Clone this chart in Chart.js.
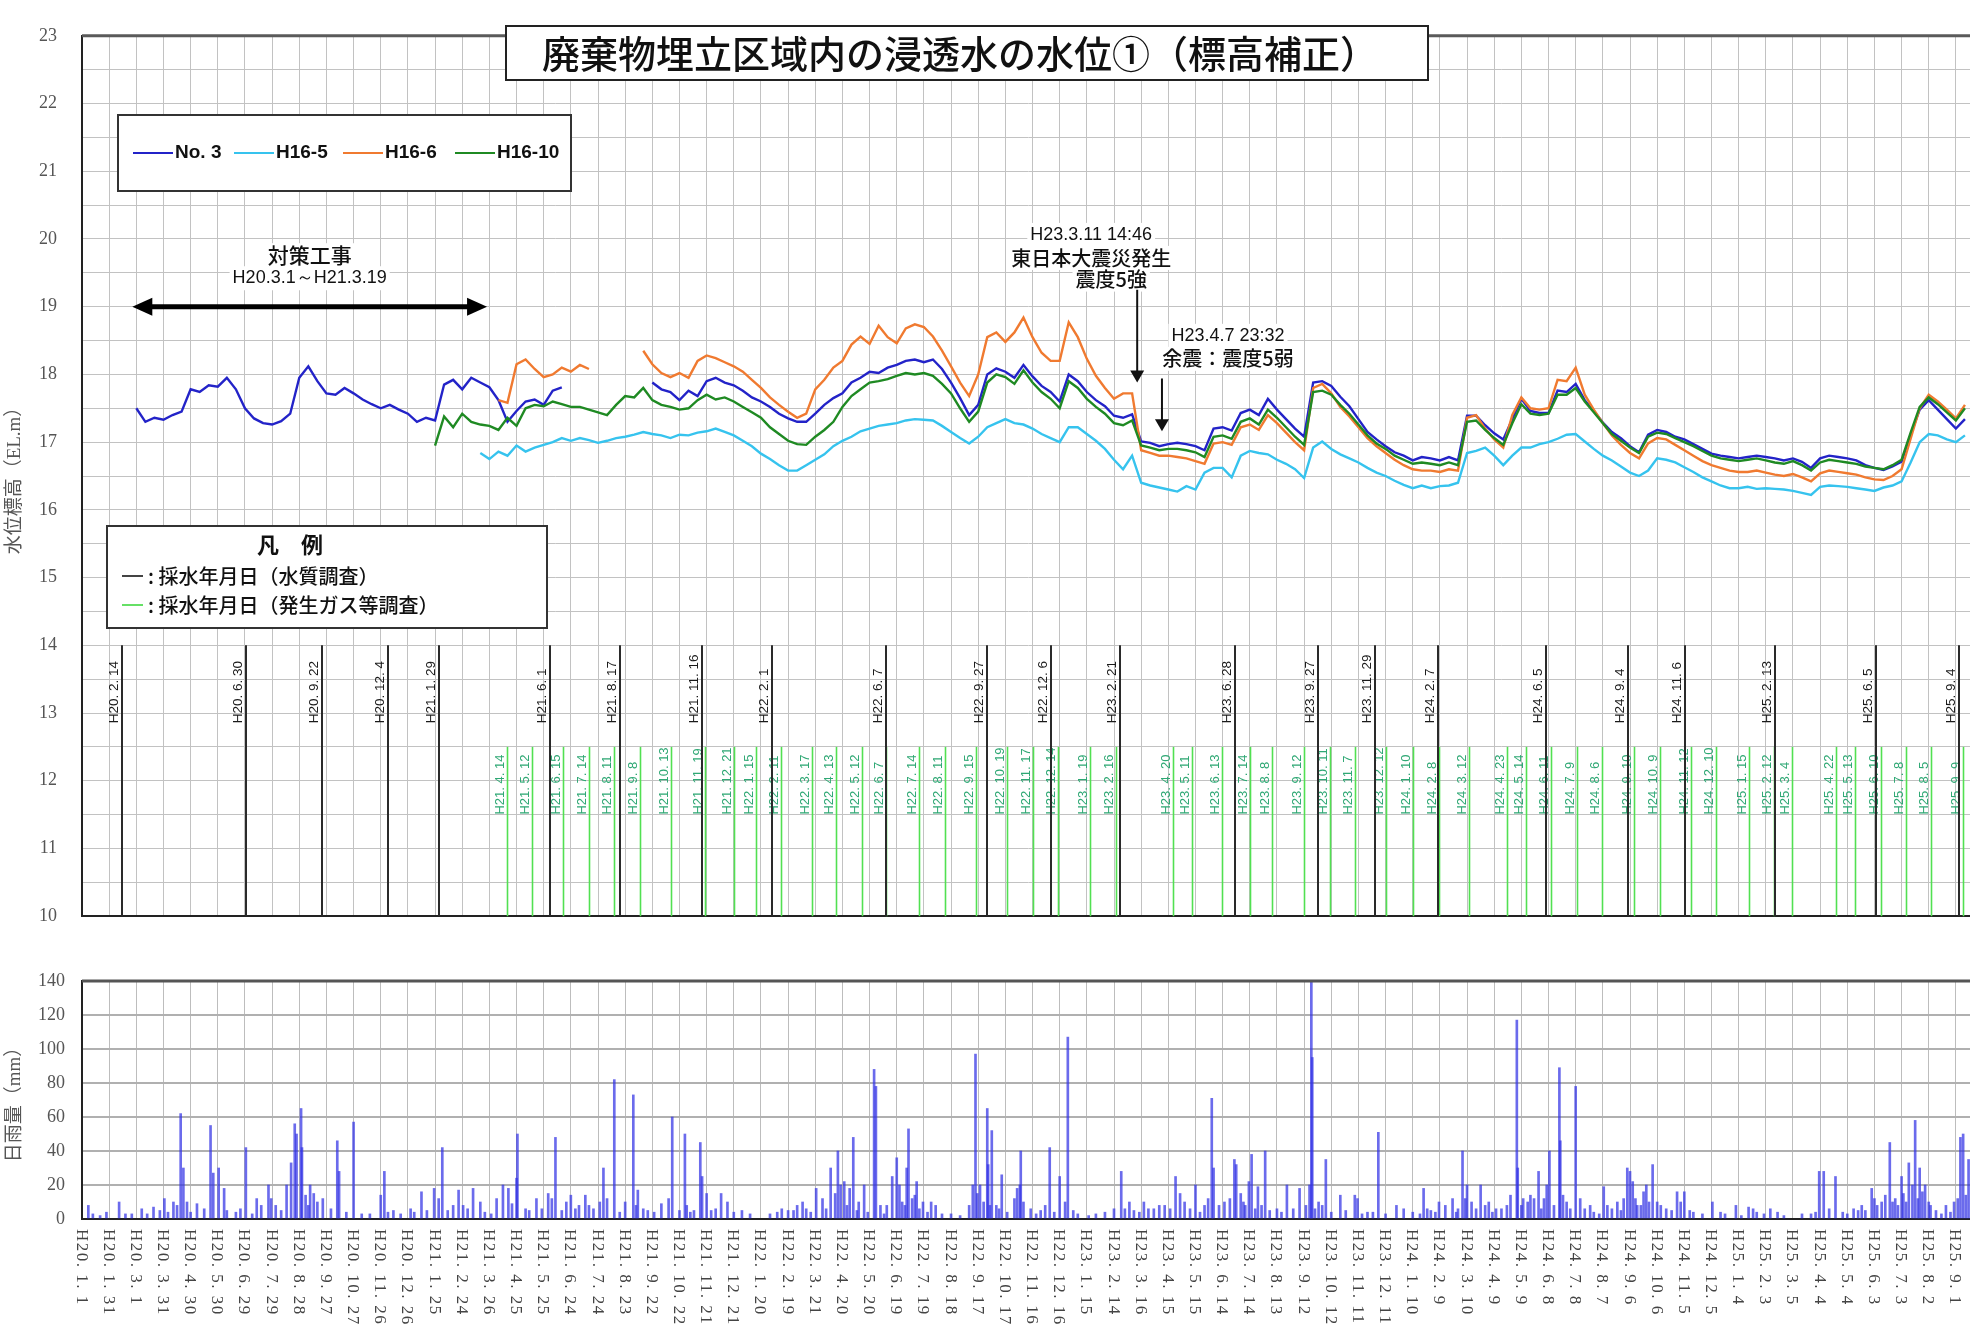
<!DOCTYPE html>
<html>
<head>
<meta charset="utf-8">
<script src="https://cdn.jsdelivr.net/npm/chart.js@4.4.1/dist/chart.umd.min.js"></script>
<style>
  html, body { margin: 0; padding: 0; background: #fff; overflow: hidden; width: 1970px; height: 1328px; }
  #levelWrap { position: absolute; left: 0; top: 0; width: 1980px; height: 952px; }
  #rainWrap { position: absolute; left: 0; top: 952px; width: 1980px; height: 376px; }
</style>
</head>
<body>
<div id="levelWrap"><canvas id="levelChart"></canvas></div>
<div id="rainWrap"><canvas id="rainChart"></canvas></div>
<script>
// ---- Days are counted from H20.1.1 (2008-01-01) ----
const STEP = 10; // water level values are listed every 10 days

// No.3 water level (EL.m) from day 60
const no3Start = 60;
const no3Values = [
  17.50,17.30,17.36,17.33,17.40,17.45,17.78,17.74,17.84,17.82,
  17.95,17.78,17.50,17.35,17.28,17.26,17.31,17.42,17.95,18.12,
  17.90,17.72,17.70,17.80,17.72,17.63,17.56,17.50,17.55,17.48,
  17.42,17.30,17.36,17.32,17.85,17.92,17.78,17.95,17.88,17.81,
  17.62,17.30,17.46,17.60,17.63,17.55,17.76,17.81,null,null,
  null,null,null,null,null,null,null,17.88,17.78,17.74,
  17.62,17.76,17.68,17.90,17.95,17.88,17.84,17.76,17.66,17.60,
  17.52,17.42,17.35,17.30,17.30,17.42,17.55,17.65,17.72,17.88,
  17.95,18.04,18.02,18.10,18.14,18.20,18.22,18.18,18.22,18.08,
  17.88,17.65,17.40,17.55,18.00,18.09,18.04,17.95,18.14,17.97,
  17.83,17.74,17.60,18.00,17.90,17.74,17.62,17.53,17.39,17.36,
  17.41,17.01,16.99,16.94,16.97,16.99,16.97,16.94,16.88,17.20,
  17.22,17.17,17.43,17.48,17.40,17.64,17.48,17.34,17.20,17.08,
  17.88,17.90,17.83,17.67,17.53,17.34,17.15,17.04,16.94,16.85,
  16.80,16.73,16.78,16.76,16.73,16.78,16.73,17.39,17.39,17.25,
  17.13,17.04,17.34,17.64,17.46,17.43,17.43,17.76,17.74,17.86,
  17.62,17.46,17.29,17.15,17.06,16.94,16.85,17.11,17.18,17.15,
  17.08,17.04,16.97,16.90,16.83,16.80,16.78,16.76,16.78,16.80,
  16.78,16.76,16.73,16.76,16.71,16.62,16.76,16.80,16.78,16.76,
  16.73,16.66,16.62,16.59,16.64,16.71,17.11,17.48,17.62,17.48,
  17.34,17.20,17.34
];

// H16-5 water level from day 440
const h16_5Start = 440;
const h16_5Values = [
  16.84,16.75,16.86,16.80,16.95,16.86,16.92,16.96,17.00,17.06,
  17.02,17.06,17.03,16.99,17.02,17.06,17.08,17.11,17.15,17.12,
  17.10,17.06,17.11,17.10,17.14,17.16,17.20,17.15,17.10,17.02,
  16.94,16.83,16.75,16.66,16.58,16.58,16.66,16.74,16.82,16.94,
  17.02,17.08,17.16,17.20,17.24,17.26,17.28,17.32,17.34,17.33,
  17.32,17.24,17.15,17.06,16.98,17.08,17.22,17.28,17.34,17.28,
  17.26,17.20,17.12,17.06,17.00,17.22,17.22,17.12,17.02,16.90,
  16.74,16.60,16.80,16.40,16.36,16.33,16.30,16.27,16.35,16.30,
  16.55,16.62,16.62,16.48,16.80,16.87,16.84,16.82,16.74,16.68,
  16.60,16.47,16.92,17.01,16.90,16.82,16.76,16.70,16.62,16.55,
  16.50,16.43,16.37,16.32,16.36,16.32,16.35,16.36,16.40,16.84,
  16.87,16.92,16.80,16.66,16.80,16.92,16.92,16.97,17.00,17.05,
  17.11,17.12,17.01,16.90,16.80,16.73,16.64,16.55,16.50,16.58,
  16.76,16.74,16.70,16.63,16.56,16.48,16.42,16.36,16.32,16.32,
  16.34,16.31,16.32,16.31,16.30,16.28,16.25,16.22,16.34,16.36,
  16.35,16.34,16.32,16.30,16.28,16.33,16.36,16.42,16.70,17.00,
  17.12,17.10,17.04,17.00,17.10
];

// H16-6 water level from day 460
const h16_6Start = 460;
const h16_6Values = [
  17.62,17.58,18.15,18.22,18.08,17.96,18.00,18.10,18.04,18.14,
  18.08,null,null,null,null,null,18.35,18.15,18.02,17.96,
  18.02,17.95,18.20,18.28,18.24,18.18,18.12,18.04,17.92,17.80,
  17.66,17.55,17.45,17.36,17.42,17.78,17.92,18.10,18.20,18.44,
  18.56,18.45,18.72,18.55,18.46,18.68,18.74,18.70,18.56,18.35,
  18.12,17.88,17.68,18.00,18.55,18.62,18.48,18.62,18.84,18.55,
  18.32,18.20,18.20,18.77,18.55,18.23,17.98,17.80,17.64,17.72,
  17.72,16.88,16.84,16.80,16.80,16.78,16.76,16.72,16.68,16.98,
  17.00,16.96,17.22,17.26,17.18,17.40,17.28,17.14,17.00,16.88,
  17.80,17.86,17.72,17.52,17.38,17.22,17.06,16.94,16.84,16.74,
  16.66,16.60,16.58,16.58,16.56,16.60,16.58,17.36,17.40,17.20,
  17.04,16.92,17.40,17.66,17.50,17.48,17.50,17.92,17.90,18.10,
  17.70,17.48,17.28,17.10,16.96,16.84,16.76,16.98,17.06,17.04,
  16.96,16.88,16.80,16.72,16.66,16.62,16.58,16.56,16.56,16.58,
  16.55,16.52,16.50,16.53,16.48,16.42,16.54,16.58,16.56,16.54,
  16.52,16.48,16.45,16.44,16.50,16.60,17.05,17.50,17.70,17.60,
  17.48,17.35,17.55
];

// H16-10 water level from day 390
const h16_10Start = 390;
const h16_10Values = [
  16.95,17.38,17.22,17.42,17.30,17.26,17.24,17.18,17.36,17.24,
  17.50,17.55,17.53,17.60,17.56,17.52,17.52,17.48,17.44,17.40,
  17.55,17.68,17.66,17.80,17.62,17.55,17.52,17.48,17.50,17.62,
  17.70,17.63,17.66,17.60,17.52,17.44,17.36,17.22,17.12,17.02,
  16.97,16.96,17.08,17.18,17.30,17.52,17.68,17.78,17.88,17.90,
  17.93,17.98,18.02,18.00,18.02,17.98,17.86,17.72,17.50,17.30,
  17.45,17.88,18.00,17.96,17.86,18.06,17.88,17.74,17.64,17.50,
  17.90,17.80,17.64,17.52,17.42,17.28,17.25,17.32,16.95,16.92,
  16.88,16.90,16.90,16.88,16.85,16.78,17.08,17.10,17.05,17.30,
  17.35,17.26,17.48,17.36,17.22,17.08,16.96,17.74,17.76,17.70,
  17.55,17.42,17.26,17.10,16.98,16.90,16.80,16.74,16.68,16.70,
  16.68,16.66,16.70,16.66,17.30,17.32,17.18,17.06,16.96,17.28,
  17.56,17.42,17.40,17.42,17.70,17.70,17.80,17.60,17.44,17.28,
  17.12,17.02,16.92,16.84,17.08,17.14,17.12,17.06,17.00,16.94,
  16.87,16.80,16.76,16.74,16.72,16.74,16.76,16.73,16.70,16.68,
  16.72,16.66,16.58,16.70,16.74,16.72,16.70,16.68,16.64,16.62,
  16.60,16.66,16.74,17.14,17.52,17.66,17.56,17.44,17.32,17.50
];

// Sampling dates: water quality survey (black) and generated gas survey (green)
const qualityDates = [
  'H20. 2. 14','H20. 6. 30','H20. 9. 22','H20. 12. 4','H21. 1. 29','H21. 6. 1','H21. 8. 17',
  'H21. 11. 16','H22. 2. 1','H22. 6. 7','H22. 9. 27','H22. 12. 6','H23. 2. 21','H23. 6. 28',
  'H23. 9. 27','H23. 11. 29','H24. 2. 7','H24. 6. 5','H24. 9. 4','H24. 11. 6','H25. 2. 13',
  'H25. 6. 5','H25. 9. 4'
];
const gasDates = [
  'H21. 4. 14','H21. 5. 12','H21. 6. 15','H21. 7. 14','H21. 8. 11','H21. 9. 8','H21. 10. 13',
  'H21. 11. 19','H21. 12. 21','H22. 1. 15','H22. 2. 11','H22. 3. 17','H22. 4. 13','H22. 5. 12',
  'H22. 6. 7','H22. 7. 14','H22. 8. 11','H22. 9. 15','H22. 10. 19','H22. 11. 17','H22. 12. 14',
  'H23. 1. 19','H23. 2. 16','H23. 4. 20','H23. 5. 11','H23. 6. 13','H23. 7. 14','H23. 8. 8',
  'H23. 9. 12','H23. 10. 11','H23. 11. 7','H23. 12. 12','H24. 1. 10','H24. 2. 8','H24. 3. 12',
  'H24. 4. 23','H24. 5. 14','H24. 6. 11','H24. 7. 9','H24. 8. 6','H24. 9. 10','H24. 10. 9',
  'H24. 11. 12','H24. 12. 10','H25. 1. 15','H25. 2. 12','H25. 3. 4','H25. 4. 22','H25. 5. 13',
  'H25. 6. 10','H25. 7. 8','H25. 8. 5','H25. 9. 9'
];

// Daily rainfall (mm): day number and amount
const rainDays = [
  7,12,20,27,41,48,55,66,72,79,86,91,95,101,105,109,112,116,120,127,135,142,145,151,157,160,170,175,
  181,188,193,198,206,209,214,220,226,231,235,237,242,243,247,250,252,256,260,266,275,282,284,292,300,
  309,318,330,334,338,344,352,363,367,375,381,389,394,398,404,410,416,421,426,432,440,445,452,458,465,
  471,475,480,481,490,494,502,508,515,519,523,530,535,540,545,549,556,560,565,572,576,580,588,594,600,
  609,612,614,620,625,632,640,648,652,660,666,668,672,676,683,685,690,695,700,706,713,720,729,738,760,
  768,773,780,786,790,796,800,805,811,818,822,827,832,835,838,842,845,848,852,856,858,864,868,875,877,
  882,886,889,895,900,903,906,909,911,913,917,920,922,925,929,934,938,943,950,960,970,980,984,987,989,
  992,996,1000,1001,1003,1005,1010,1013,1016,1022,1030,1033,1036,1037,1040,1048,1054,1059,1064,1069,
  1074,1080,1086,1089,1095,1100,1112,1120,1130,1140,1148,1152,1157,1162,1168,1173,1178,1184,1190,1196,
  1202,1208,1213,1218,1224,1230,1235,1240,1244,1248,1250,1256,1262,1268,1273,1275,1280,1283,1285,1289,
  1292,1296,1299,1303,1307,1312,1320,1325,1331,1338,1345,1352,1356,1358,1359,1362,1366,1370,1374,1380,
  1390,1396,1406,1409,1414,1420,1426,1432,1440,1452,1460,1470,1478,1482,1486,1490,1495,1499,1506,1514,
  1518,1520,1525,1528,1530,1535,1540,1545,1550,1554,1558,1562,1568,1574,1578,1585,1586,1590,1592,1597,
  1600,1604,1609,1612,1615,1618,1621,1626,1632,1633,1636,1640,1644,1650,1655,1660,1666,1670,1676,1681,
  1685,1690,1696,1700,1703,1707,1710,1713,1716,1718,1722,1725,1728,1731,1735,1740,1744,1750,1756,1762,
  1766,1770,1776,1780,1790,1801,1810,1815,1827,1833,1841,1846,1850,1858,1865,1873,1880,1900,1910,1915,
  1919,1924,1930,1937,1945,1950,1957,1962,1966,1970,1977,1980,1983,1988,1992,1997,2000,2003,2006,2010,
  2012,2015,2018,2022,2025,2028,2030,2033,2036,2040,2042,2048,2054,2059,2064,2068,2072,2075,2078,2081,2084
];
const rainMm = [
  8,3,2,4,10,3,3,6,3,7,5,12,4,10,8,62,30,10,4,9,6,55,27,30,18,5,4,6,
  42,3,12,8,20,12,8,5,20,33,56,50,65,42,14,8,20,15,10,12,6,46,28,4,57,
  3,3,14,28,4,5,3,6,4,16,5,18,12,42,5,8,17,8,6,18,10,4,3,12,20,
  18,9,24,50,6,5,12,6,15,12,48,5,10,14,6,8,14,8,6,10,30,12,82,4,10,
  73,8,17,6,5,4,9,12,60,5,50,8,4,5,45,25,15,5,6,15,10,4,5,3,3,
  4,6,5,5,8,10,6,4,18,12,6,30,15,40,20,22,8,18,48,5,10,20,4,88,78,
  8,3,8,25,36,20,10,8,30,53,12,14,22,6,10,4,10,8,3,3,2,8,20,97,15,
  20,10,65,32,8,52,8,6,26,4,12,18,20,40,10,6,3,5,8,42,
  4,25,10,107,5,3,2,3,4,6,28,6,10,5,4,10,6,6,8,8,
  6,25,15,10,6,20,4,8,12,71,30,8,10,12,35,32,15,10,8,22,
  38,6,19,8,40,5,6,4,20,6,18,8,20,140,95,6,10,8,35,4,
  14,5,14,12,3,4,4,51,3,8,6,4,3,18,6,5,4,10,8,12,
  4,6,40,12,20,10,6,20,8,10,4,6,6,8,14,117,30,8,12,10,
  14,12,28,6,12,20,40,8,89,46,14,10,6,78,12,6,8,4,3,19,
  8,6,10,5,12,30,28,22,12,8,8,16,20,10,32,10,8,6,5,16,
  10,16,5,4,3,10,4,3,8,2,7,6,4,3,6,4,2,3,3,4,
  28,28,6,25,4,3,6,5,8,5,18,12,8,10,14,45,10,12,8,25,
  15,10,33,20,58,12,30,16,20,10,8,5,3,8,4,10,12,48,50,14,35
];

// Tick labels of the date axis, one every 30 days from H20.1.1
const dateTickLabels = [
  'H20. 1. 1','H20. 1. 31','H20. 3. 1','H20. 3. 31','H20. 4. 30','H20. 5. 30','H20. 6. 29','H20. 7. 29',
  'H20. 8. 28','H20. 9. 27','H20. 10. 27','H20. 11. 26','H20. 12. 26','H21. 1. 25','H21. 2. 24','H21. 3. 26',
  'H21. 4. 25','H21. 5. 25','H21. 6. 24','H21. 7. 24','H21. 8. 23','H21. 9. 22','H21. 10. 22','H21. 11. 21',
  'H21. 12. 21','H22. 1. 20','H22. 2. 19','H22. 3. 21','H22. 4. 20','H22. 5. 20','H22. 6. 19','H22. 7. 19',
  'H22. 8. 18','H22. 9. 17','H22. 10. 17','H22. 11. 16','H22. 12. 16','H23. 1. 15','H23. 2. 14','H23. 3. 16',
  'H23. 4. 15','H23. 5. 15','H23. 6. 14','H23. 7. 14','H23. 8. 13','H23. 9. 12','H23. 10. 12','H23. 11. 11',
  'H23. 12. 11','H24. 1. 10','H24. 2. 9','H24. 3. 10','H24. 4. 9','H24. 5. 9','H24. 6. 8','H24. 7. 8',
  'H24. 8. 7','H24. 9. 6','H24. 10. 6','H24. 11. 5','H24. 12. 5','H25. 1. 4','H25. 2. 3','H25. 3. 5',
  'H25. 4. 4','H25. 5. 4','H25. 6. 3','H25. 7. 3','H25. 8. 2','H25. 9. 1'
];
const TICK_DAYS = 30;
const DAY_MAX = 2090;

// ---- helpers ----
const ORIGIN = Date.UTC(2008, 0, 1);
function heiseiToDay(label) {
  const m = label.replace(/\s/g, '').match(/^H(\d+)\.(\d+)\.(\d+)$/);
  return (Date.UTC(1988 + Number(m[1]), Number(m[2]) - 1, Number(m[3])) - ORIGIN) / 86400000;
}
function timeToDay(label, hhmm) {
  const [h, mi] = hhmm.split(':').map(Number);
  return heiseiToDay(label) + (h + mi / 60) / 24;
}
function toPoints(start, values) {
  return values.map((v, i) => ({ x: start + i * STEP, y: v }));
}
const dateTicks = dateTickLabels.map((_, i) => ({ value: i * TICK_DAYS }));

const JP = '"Noto Sans CJK JP", sans-serif';
const SERIF = '"Liberation Serif", "Noto Sans CJK JP", serif';
const NARROW = '"Liberation Sans Narrow", "Liberation Sans", sans-serif';

const COLORS = { no3: '#2323c8', h16_5: '#36c3ee', h16_6: '#f07a30', h16_10: '#1f8a23' };

// construction period and earthquakes
const works = { from: 'H20.3.1', to: 'H21.3.19', y: 19.0 };
const mainQuake = { date: 'H23.3.11', time: '14:46', yFrom: 19.25, yTo: 17.88 };
const afterShock = { date: 'H23.4.7', time: '23:32', yFrom: 17.94, yTo: 17.16 };

function textBg(ctx, str, x, y, font, color) {
  ctx.font = font;
  ctx.textAlign = 'center';
  ctx.textBaseline = 'middle';
  const w = ctx.measureText(str).width;
  ctx.fillStyle = '#fff';
  ctx.fillRect(x - w / 2 - 3, y - 12, w + 6, 24);
  ctx.fillStyle = color;
  ctx.fillText(str, x, y);
}
function downArrow(ctx, x, y1, y2) {
  ctx.strokeStyle = '#111';
  ctx.lineWidth = 2;
  ctx.beginPath(); ctx.moveTo(x, y1); ctx.lineTo(x, y2 - 10); ctx.stroke();
  ctx.fillStyle = '#111';
  ctx.beginPath(); ctx.moveTo(x - 7, y2 - 12); ctx.lineTo(x + 7, y2 - 12); ctx.lineTo(x, y2); ctx.closePath(); ctx.fill();
}

// ---- decorations of the water level chart ----
const levelDecor = {
  id: 'levelDecor',
  beforeDatasetsDraw(chart) {
    const { ctx, scales: { x, y } } = chart;
    ctx.save();
    const yBase = y.getPixelForValue(10);
    // gas survey lines
    gasDates.forEach(lbl => {
      const px = Math.round(x.getPixelForValue(heiseiToDay(lbl))) + 0.5;
      ctx.strokeStyle = '#52e052'; ctx.lineWidth = 1.6;
      ctx.beginPath(); ctx.moveTo(px, y.getPixelForValue(12.5)); ctx.lineTo(px, yBase); ctx.stroke();
      ctx.save();
      ctx.translate(px - 7, y.getPixelForValue(11.5));
      ctx.rotate(-Math.PI / 2);
      ctx.font = '13px "Liberation Sans", sans-serif';
      ctx.fillStyle = '#2fa874'; ctx.textAlign = 'left'; ctx.textBaseline = 'middle';
      ctx.fillText(lbl, 0, 0);
      ctx.restore();
    });
    // water quality survey lines
    qualityDates.forEach(lbl => {
      const px = Math.round(x.getPixelForValue(heiseiToDay(lbl)));
      ctx.strokeStyle = '#2a2a2a'; ctx.lineWidth = 2;
      ctx.beginPath(); ctx.moveTo(px, y.getPixelForValue(14)); ctx.lineTo(px, yBase); ctx.stroke();
      ctx.save();
      ctx.translate(px - 8, y.getPixelForValue(12.85));
      ctx.rotate(-Math.PI / 2);
      ctx.font = '13.5px "Liberation Sans", sans-serif';
      ctx.fillStyle = '#1a1a1a'; ctx.textAlign = 'left'; ctx.textBaseline = 'middle';
      ctx.fillText(lbl, 0, 0);
      ctx.restore();
    });
    ctx.restore();
  },
  afterDraw(chart) {
    const { ctx, chartArea: ca, scales: { x, y } } = chart;
    ctx.save();
    // top frame
    ctx.strokeStyle = '#5a5a5a'; ctx.lineWidth = 3;
    ctx.beginPath(); ctx.moveTo(ca.left, ca.top); ctx.lineTo(ca.right, ca.top); ctx.stroke();

    // chart title box
    ctx.fillStyle = '#fff'; ctx.fillRect(506, 26, 922, 54);
    ctx.strokeStyle = '#222'; ctx.lineWidth = 2; ctx.strokeRect(506, 26, 922, 54);
    ctx.fillStyle = '#111'; ctx.font = '500 38px ' + JP; ctx.textAlign = 'center'; ctx.textBaseline = 'middle';
    ctx.fillText('廃棄物埋立区域内の浸透水の水位①（標高補正）', 960, 54);

    // series legend box
    ctx.fillStyle = '#fff'; ctx.fillRect(118, 115, 453, 76);
    ctx.strokeStyle = '#333'; ctx.lineWidth = 2; ctx.strokeRect(118, 115, 453, 76);
    const items = [
      ['No. 3', COLORS.no3, 133], ['H16-5', COLORS.h16_5, 234],
      ['H16-6', COLORS.h16_6, 343], ['H16-10', COLORS.h16_10, 455]
    ];
    items.forEach(([name, col, lx]) => {
      ctx.strokeStyle = col; ctx.lineWidth = 2;
      ctx.beginPath(); ctx.moveTo(lx, 153); ctx.lineTo(lx + 40, 153); ctx.stroke();
      ctx.fillStyle = '#111'; ctx.font = 'bold 19px ' + NARROW;
      ctx.textAlign = 'left'; ctx.textBaseline = 'middle';
      ctx.fillText(name, lx + 42, 153);
    });

    // sampling legend box
    ctx.fillStyle = '#fff'; ctx.fillRect(107, 526, 440, 102);
    ctx.strokeStyle = '#333'; ctx.lineWidth = 2; ctx.strokeRect(107, 526, 440, 102);
    ctx.fillStyle = '#111'; ctx.font = 'bold 22px ' + JP; ctx.textAlign = 'center'; ctx.textBaseline = 'middle';
    ctx.fillText('凡　例', 290, 545);
    ctx.lineWidth = 2;
    ctx.strokeStyle = '#444'; ctx.beginPath(); ctx.moveTo(122, 576); ctx.lineTo(143, 576); ctx.stroke();
    ctx.strokeStyle = '#66e066'; ctx.beginPath(); ctx.moveTo(122, 605); ctx.lineTo(143, 605); ctx.stroke();
    ctx.font = '500 20px ' + JP; ctx.textAlign = 'left'; ctx.fillStyle = '#111';
    ctx.fillText(': 採水年月日（水質調査）', 148, 576);
    ctx.fillText(': 採水年月日（発生ガス等調査）', 148, 605);

    // construction period arrow
    const ax1 = x.getPixelForValue(heiseiToDay(works.from));
    const ax2 = x.getPixelForValue(heiseiToDay(works.to));
    const ay = y.getPixelForValue(works.y);
    ctx.strokeStyle = '#000'; ctx.lineWidth = 5;
    ctx.beginPath(); ctx.moveTo(ax1 + 12, ay); ctx.lineTo(ax2 - 12, ay); ctx.stroke();
    ctx.fillStyle = '#000';
    ctx.beginPath(); ctx.moveTo(ax1 - 4, ay); ctx.lineTo(ax1 + 16, ay - 9); ctx.lineTo(ax1 + 16, ay + 9); ctx.closePath(); ctx.fill();
    ctx.beginPath(); ctx.moveTo(ax2 + 4, ay); ctx.lineTo(ax2 - 16, ay - 9); ctx.lineTo(ax2 - 16, ay + 9); ctx.closePath(); ctx.fill();
    const amid = (ax1 + ax2) / 2;
    textBg(ctx, '対策工事', amid, y.getPixelForValue(19.76), '500 21px ' + JP, '#111');
    textBg(ctx, 'H20.3.1～H21.3.19', amid, y.getPixelForValue(19.42), '18px ' + NARROW, '#111');

    // earthquake notes
    const q1 = x.getPixelForValue(timeToDay(mainQuake.date, mainQuake.time));
    textBg(ctx, 'H23.3.11 14:46', q1 - 46, y.getPixelForValue(20.06), '18px ' + NARROW, '#111');
    textBg(ctx, '東日本大震災発生', q1 - 46, y.getPixelForValue(19.72), '500 20px ' + JP, '#111');
    textBg(ctx, '震度5強', q1 - 26, y.getPixelForValue(19.40), '500 20px ' + JP, '#111');
    downArrow(ctx, q1, y.getPixelForValue(mainQuake.yFrom), y.getPixelForValue(mainQuake.yTo));
    const q2 = x.getPixelForValue(timeToDay(afterShock.date, afterShock.time));
    textBg(ctx, 'H23.4.7 23:32', q2 + 66, y.getPixelForValue(18.57), '18px ' + NARROW, '#111');
    textBg(ctx, '余震：震度5弱', q2 + 66, y.getPixelForValue(18.23), '500 20px ' + JP, '#111');
    downArrow(ctx, q2, y.getPixelForValue(afterShock.yFrom), y.getPixelForValue(afterShock.yTo));
    ctx.restore();
  }
};

// ---- water level chart ----
const lineDs = (label, start, values, color, order) => ({
  label, data: toPoints(start, values), borderColor: color, backgroundColor: color,
  borderWidth: 2.4, pointRadius: 0, spanGaps: false, tension: 0, order
});

new Chart(document.getElementById('levelChart'), {
  type: 'line',
  data: {
    datasets: [
      lineDs('No. 3', no3Start, no3Values, COLORS.no3, 4),
      lineDs('H16-5', h16_5Start, h16_5Values, COLORS.h16_5, 3),
      lineDs('H16-6', h16_6Start, h16_6Values, COLORS.h16_6, 2),
      lineDs('H16-10', h16_10Start, h16_10Values, COLORS.h16_10, 1)
    ]
  },
  options: {
    responsive: true, maintainAspectRatio: false, animation: false, devicePixelRatio: 1,
    layout: { padding: { top: 16, right: 6, left: 0, bottom: 0 } },
    plugins: { legend: { display: false }, tooltip: { enabled: false } },
    scales: {
      x: {
        type: 'linear', min: 0, max: DAY_MAX,
        afterBuildTicks: s => { s.ticks = dateTicks.map(t => ({ value: t.value })); },
        afterFit: s => { s.height = 8; },
        ticks: { display: false },
        grid: { color: '#c2c2c2', lineWidth: 1, drawTicks: false },
        border: { display: true, color: '#222', width: 2 }
      },
      y: {
        min: 10, max: 23,
        afterBuildTicks: s => {
          const t = [];
          for (let v = 10; v <= 23; v += 0.5) t.push({ value: v });
          s.ticks = t;
        },
        afterFit: s => { s.width = 82; },
        ticks: {
          callback: v => (Number.isInteger(v) ? String(v) : ''),
          color: '#555', padding: 25, font: { family: SERIF, size: 18 }
        },
        grid: { color: '#c2c2c2', lineWidth: 1, drawTicks: false },
        border: { display: true, color: '#222', width: 2 },
        title: { display: true, text: '水位標高（EL.m）', color: '#555', padding: { top: 4, bottom: 0 }, font: { family: SERIF, size: 19 } }
      }
    }
  },
  plugins: [levelDecor]
});

// ---- rainfall chart ----
const rainDecor = {
  id: 'rainDecor',
  afterDraw(chart) {
    const { ctx, chartArea: ca, scales: { x } } = chart;
    ctx.save();
    ctx.strokeStyle = '#555'; ctx.lineWidth = 3;
    ctx.beginPath(); ctx.moveTo(ca.left, ca.top); ctx.lineTo(ca.right, ca.top); ctx.stroke();
    // vertical date labels, read top to bottom
    ctx.font = '17px "Liberation Serif", serif';
    ctx.fillStyle = '#444';
    if ('letterSpacing' in ctx) ctx.letterSpacing = '1.5px';
    x.ticks.forEach((t, i) => {
      const lbl = dateTickLabels[i];
      if (!lbl) return;
      const px = x.getPixelForValue(t.value);
      ctx.save();
      ctx.translate(px - 1, ca.bottom + 10);
      ctx.rotate(Math.PI / 2);
      ctx.textAlign = 'left'; ctx.textBaseline = 'middle';
      ctx.fillText(lbl, 0, 0);
      ctx.restore();
    });
    ctx.restore();
  }
};

new Chart(document.getElementById('rainChart'), {
  type: 'bar',
  data: {
    datasets: [{
      label: '日雨量',
      data: rainDays.map((d, i) => ({ x: d, y: rainMm[i] })),
      backgroundColor: 'rgba(50,50,228,0.72)',
      borderWidth: 0, barThickness: 2
    }]
  },
  options: {
    responsive: true, maintainAspectRatio: false, animation: false, devicePixelRatio: 1,
    layout: { padding: { top: 29, right: 6, left: 0, bottom: 0 } },
    plugins: { legend: { display: false }, tooltip: { enabled: false } },
    scales: {
      x: {
        type: 'linear', min: 0, max: DAY_MAX, offset: false,
        afterBuildTicks: s => { s.ticks = dateTicks.map(t => ({ value: t.value })); },
        afterFit: s => { s.height = 109; },
        ticks: { display: false },
        grid: { color: '#bdbdbd', lineWidth: 1, drawTicks: false, offset: false },
        border: { display: true, color: '#222', width: 2 }
      },
      y: {
        min: 0, max: 140,
        ticks: { stepSize: 20, color: '#555', padding: 17, font: { family: SERIF, size: 18 } },
        afterFit: s => { s.width = 82; },
        grid: { color: '#b0b0b0', lineWidth: 2, drawTicks: false },
        border: { display: true, color: '#222', width: 2 },
        title: { display: true, text: '日雨量（mm）', color: '#555', padding: { top: 4, bottom: 0 }, font: { family: SERIF, size: 19 } }
      }
    }
  },
  plugins: [rainDecor]
});
</script>
</body>
</html>
